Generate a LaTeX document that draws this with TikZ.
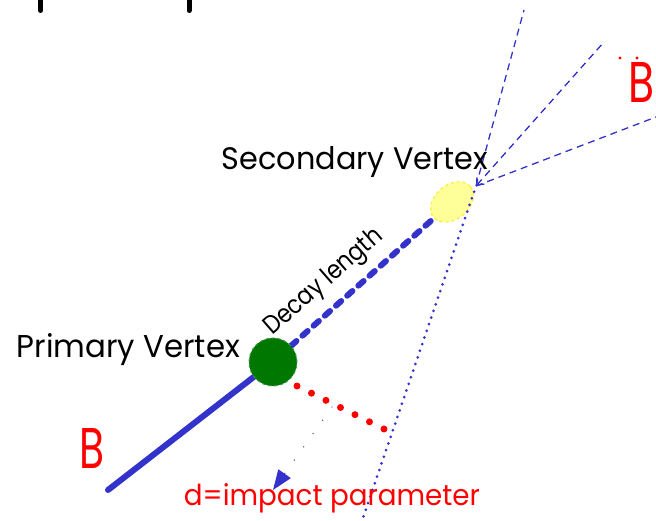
\documentclass[tikz,border=0pt]{standalone}
\usepackage{fontspec}
\setmainfont{Poppins}
\usetikzlibrary{shapes.geometric,arrows.meta}
\pgfdeclarelayer{bg}
\pgfsetlayers{bg,main}
\definecolor{trk}{HTML}{3333CC}
\definecolor{pvg}{HTML}{007700}
\definecolor{svfill}{HTML}{FFFF99}
\definecolor{svedge}{HTML}{FFEE33}
\begin{document}
\begin{tikzpicture}[x=1pt,y=-1pt,
  lbl/.style={anchor=base,inner sep=0pt,text=black},
  redlbl/.style={lbl,text=red},
  thick track/.style={trk,line width=6pt,line cap=round},
  thin dashed/.style={trk,line width=1.3pt,dash pattern=on 7pt off 5pt},
  bar/.style={black,line width=5pt,line cap=round}]
\useasboundingbox (0,0) rectangle (656,521);

% vertices
\node[circle,fill=pvg,draw=pvg!75!white,dashed,line width=1pt,minimum size=48pt,inner sep=0pt] (pv) at (273,362) {};
\node[ellipse,fill=svfill,draw=svedge,dashed,line width=1.2pt,minimum width=48pt,minimum height=34pt,inner sep=0pt,rotate=40] (sv) at (452,202) {};

% coordinates
\coordinate (bstart) at (108,490);
\coordinate (apex) at (476,186);
\coordinate (t1) at (524,10);
\coordinate (t2) at (604,42);
\coordinate (t3) at (656,117);
\coordinate (dotend) at (362,521);
\coordinate (dstart) at (297,386);
\coordinate (dend) at (384,429);
\coordinate (ipstart) at (332,407);
\coordinate (iptip) at (273,490);

\begin{pgfonlayer}{bg}
\fill[white] (0,0) rectangle (656,521);
\draw[thick track] (bstart) -- (pv);
\draw[thick track,dash pattern=on 7pt off 8pt] (pv) -- (sv);
\end{pgfonlayer}

% secondary tracks
\draw[thin dashed] (apex) -- (t1);
\draw[thin dashed,{Straight Barb[length=6pt,width=10pt,line width=1.3pt]}-] (apex) -- (t2);
\draw[thin dashed] (apex) -- (t3);
\draw[trk,line width=3pt,line cap=round,dash pattern=on 0pt off 7pt,shorten <=6pt] (apex) -- (dotend);

% impact parameter
\draw[red,line width=7pt,line cap=round,dash pattern=on 0pt off 16.17pt] (dstart) -- (dend);
\draw[trk,line width=1.4pt,line cap=round,dash pattern=on 0pt off 16.3pt,-{Triangle[length=20pt,width=15pt]}] (ipstart) -- (iptip);

% top fragments
\draw[bar] (40.7,-5) -- (40.7,10.5);
\draw[bar] (189,-5) -- (189,10.5);

% labels
\node[lbl] (svl) at (355,170) {\resizebox{266pt}{23pt}{Secondary Vertex}};
\node[lbl] (pvl) at (128.5,357) {\resizebox{223pt}{24pt}{Primary Vertex}};
\node[lbl,rotate=41] (dl) at (328,287) {\resizebox{148pt}{19pt}{Decay length}};
\node[redlbl] (ipl) at (332,505) {\resizebox{296pt}{22pt}{d=impact parameter}};
\node[redlbl] (bl) at (92.5,468) {\resizebox{25pt}{40pt}{B}};
\node[redlbl] (br) at (641,103) {\resizebox{26pt}{40pt}{B}};
\fill[red] (620,58) circle (1.6pt);
\fill[red] (637,58) circle (1.6pt);
\end{tikzpicture}
\end{document}
